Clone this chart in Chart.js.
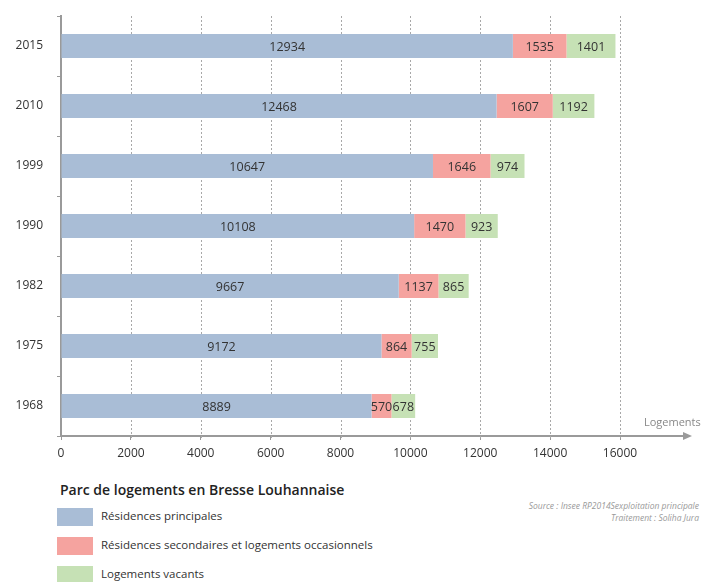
<!DOCTYPE html>
<html>
<head>
<meta charset="utf-8">
<script src="https://cdn.jsdelivr.net/npm/chart.js@4/dist/chart.umd.min.js"></script>
<style>
  body { margin: 0; background: #fff; font-family: "Open Sans", sans-serif; }
  #wrap { position: relative; width: 709px; height: 582px; overflow: hidden; }
  #c { position: absolute; left: 0; top: 0; }
  .title { position: absolute; left: 60px; top: 480px; font-size: 14px; font-weight: 600; color: #222; }
  .leg { position: absolute; left: 57px; font-size: 11.5px; color: #333; }
  .leg span { display: inline-block; width: 36px; height: 18px; vertical-align: middle; margin-right: 8px; }
  .src { position: absolute; right: 10px; top: 500px; font-size: 8.5px; font-style: italic; color: #999; text-align: right; line-height: 12px; }
</style>
</head>
<body>
<div id="wrap">
  <canvas id="c" width="709" height="470"></canvas>
  <div class="title">Parc de logements en Bresse Louhannaise</div>
  <div class="leg" style="top:508px"><span style="background:#a9bdd6"></span>Résidences principales</div>
  <div class="leg" style="top:537px"><span style="background:#f5a39f"></span>Résidences secondaires et logements occasionnels</div>
  <div class="leg" style="top:566px"><span style="background:#c6e1b5"></span>Logements vacants</div>
  <div class="src">Source : Insee RP2014Sexploitation principale<br>Traitement : Soliha Jura</div>
</div>
<script>
const years = ['2015', '2010', '1999', '1990', '1982', '1975', '1968'];
const principales = [12934, 12468, 10647, 10108, 9667, 9172, 8889];
const secondaires = [1535, 1607, 1646, 1470, 1137, 864, 570];
const vacants = [1401, 1192, 974, 923, 865, 755, 678];
const xTicks = [0, 2000, 4000, 6000, 8000, 10000, 12000, 14000, 16000];

// valeurs au centre de chaque segment
const barLabels = {
  id: 'barLabels',
  afterDatasetsDraw(chart) {
    const ctx = chart.ctx;
    ctx.save();
    ctx.font = '12.5px "Open Sans", sans-serif';
    ctx.fillStyle = '#333';
    ctx.textAlign = 'center';
    ctx.textBaseline = 'middle';
    chart.data.datasets.forEach((ds, i) => {
      chart.getDatasetMeta(i).data.forEach((bar, j) => {
        const x = (bar.x + bar.base) / 2;
        ctx.fillText(ds.data[j], x, bar.y + 1);
      });
    });
    ctx.restore();
  }
};

// grille verticale en pointillés
const dottedGrid = {
  id: 'dottedGrid',
  beforeDatasetsDraw(chart) {
    const ctx = chart.ctx;
    const xs = chart.scales.x;
    const { top, bottom } = chart.chartArea;
    ctx.save();
    ctx.strokeStyle = '#a8a8a8';
    ctx.lineWidth = 1;
    ctx.setLineDash([2, 2]);
    xTicks.slice(1).forEach(v => {
      const x = Math.round(xs.getPixelForValue(v)) + 0.5;
      ctx.beginPath();
      ctx.moveTo(x, top);
      ctx.lineTo(x, bottom + 4);
      ctx.stroke();
    });
    ctx.restore();
  }
};

// flèche de l'axe + "Logements"
const axisArrow = {
  id: 'axisArrow',
  afterDraw(chart) {
    const ctx = chart.ctx;
    const y = chart.scales.x.top;
    ctx.save();
    ctx.strokeStyle = '#9a9a9a';
    ctx.fillStyle = '#9a9a9a';
    ctx.lineWidth = 2;
    ctx.beginPath();
    ctx.moveTo(chart.chartArea.right, y);
    ctx.lineTo(684, y);
    ctx.stroke();
    ctx.beginPath();
    ctx.moveTo(692, y);
    ctx.lineTo(683, y - 4);
    ctx.lineTo(683, y + 4);
    ctx.closePath();
    ctx.fill();
    ctx.font = '11px "Open Sans", sans-serif';
    ctx.fillStyle = '#888';
    ctx.textAlign = 'left';
    ctx.fillText('Logements', 644, y - 10);
    ctx.restore();
  }
};

new Chart(document.getElementById('c'), {
  type: 'bar',
  data: {
    labels: years,
    datasets: [
      { label: 'Résidences principales', data: principales, backgroundColor: '#a9bdd6' },
      { label: 'Résidences secondaires et logements occasionnels', data: secondaires, backgroundColor: '#f5a39f' },
      { label: 'Logements vacants', data: vacants, backgroundColor: '#c6e1b5' }
    ]
  },
  options: {
    indexAxis: 'y',
    responsive: false,
    animation: false,
    layout: { padding: { top: 16, right: 89 } },
    datasets: { bar: { categoryPercentage: 1, barPercentage: 0.4 } },
    plugins: { legend: { display: false }, tooltip: { enabled: false } },
    scales: {
      x: {
        stacked: true,
        min: 0,
        max: 16000,
        afterBuildTicks(scale) { scale.ticks = xTicks.map(v => ({ value: v })); },
        afterFit(scale) { scale.height = 34; },
        border: { color: '#9a9a9a', width: 2 },
        grid: { drawOnChartArea: false, tickLength: 4, tickColor: '#9a9a9a' },
        ticks: {
          color: '#333', font: { size: 12, family: 'Open Sans' }, padding: 6,
          callback: v => String(v)
        }
      },
      y: {
        stacked: true,
        afterFit(scale) { scale.width = 61; scale.paddingTop = 0; scale.paddingBottom = 0; },
        border: { color: '#9a9a9a', width: 2 },
        grid: { offset: true, drawOnChartArea: false, tickLength: 4, tickColor: '#9a9a9a' },
        ticks: { color: '#333', font: { size: 12, family: 'Open Sans' }, padding: 14 }
      }
    }
  },
  plugins: [dottedGrid, barLabels, axisArrow]
});
</script>
</body>
</html>
